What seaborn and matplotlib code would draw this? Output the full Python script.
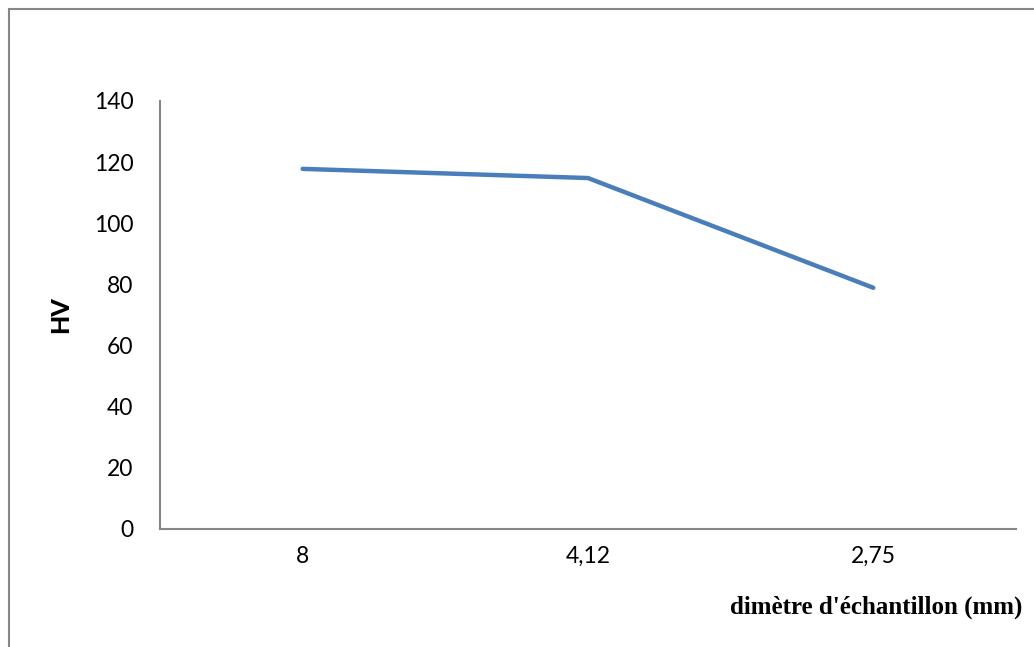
import matplotlib
matplotlib.use("Agg")
import matplotlib.pyplot as plt
from matplotlib.lines import Line2D
import seaborn as sns
import pandas as pd

# Vickers hardness versus sample diameter
diametres = ["8", "4,12", "2,75"]
durete_hv = [117.8, 114.8, 78.9]
y_ticks = [0, 20, 40, 60, 80, 100, 120, 140]

sns.set_theme(style="white")
plt.rcParams["font.family"] = ["Lato", "DejaVu Sans"]
plt.rcParams["text.color"] = "black"
plt.rcParams["axes.labelcolor"] = "black"

df = pd.DataFrame({"diametre": diametres, "hv": durete_hv})

fig = plt.figure(figsize=(10.34, 6.47), dpi=100)
ax = fig.add_axes([0.1547, 0.1824, 0.8279, 0.6615])

sns.lineplot(data=df, x="diametre", y="hv", ax=ax, color="#4A7EBB",
             linewidth=3.2, sort=False)

ax.set_xlim(-0.5, 2.5)
ax.set_ylim(0, 140)
ax.set_yticks(y_ticks)
ax.set_yticklabels([str(v) for v in y_ticks])

for side in ("top", "right"):
    ax.spines[side].set_visible(False)
for side in ("left", "bottom"):
    ax.spines[side].set_color("#868686")
    ax.spines[side].set_linewidth(1.5)

ax.tick_params(axis="both", length=0, labelsize=16.5, colors="black")
ax.tick_params(axis="y", pad=19)
ax.tick_params(axis="x", pad=12)

ax.set_ylabel("HV", fontsize=18, fontweight="black", labelpad=16, color="black")
ax.set_xlabel("")
fig.text(0.9885, 0.061, "dimètre d'échantillon (mm)", ha="right", va="center",
         fontsize=18, fontweight="bold", family="Liberation Serif", color="black")

# chart area frame (left and top edges)
fig.add_artist(Line2D([8.5 / 1034, 8.5 / 1034], [0, 1 - 8.5 / 647],
                      transform=fig.transFigure, color="#868686", linewidth=1.5))
fig.add_artist(Line2D([8.5 / 1034, 1], [1 - 8.5 / 647, 1 - 8.5 / 647],
                      transform=fig.transFigure, color="#868686", linewidth=1.5))

fig.savefig("out.png", dpi=100)
